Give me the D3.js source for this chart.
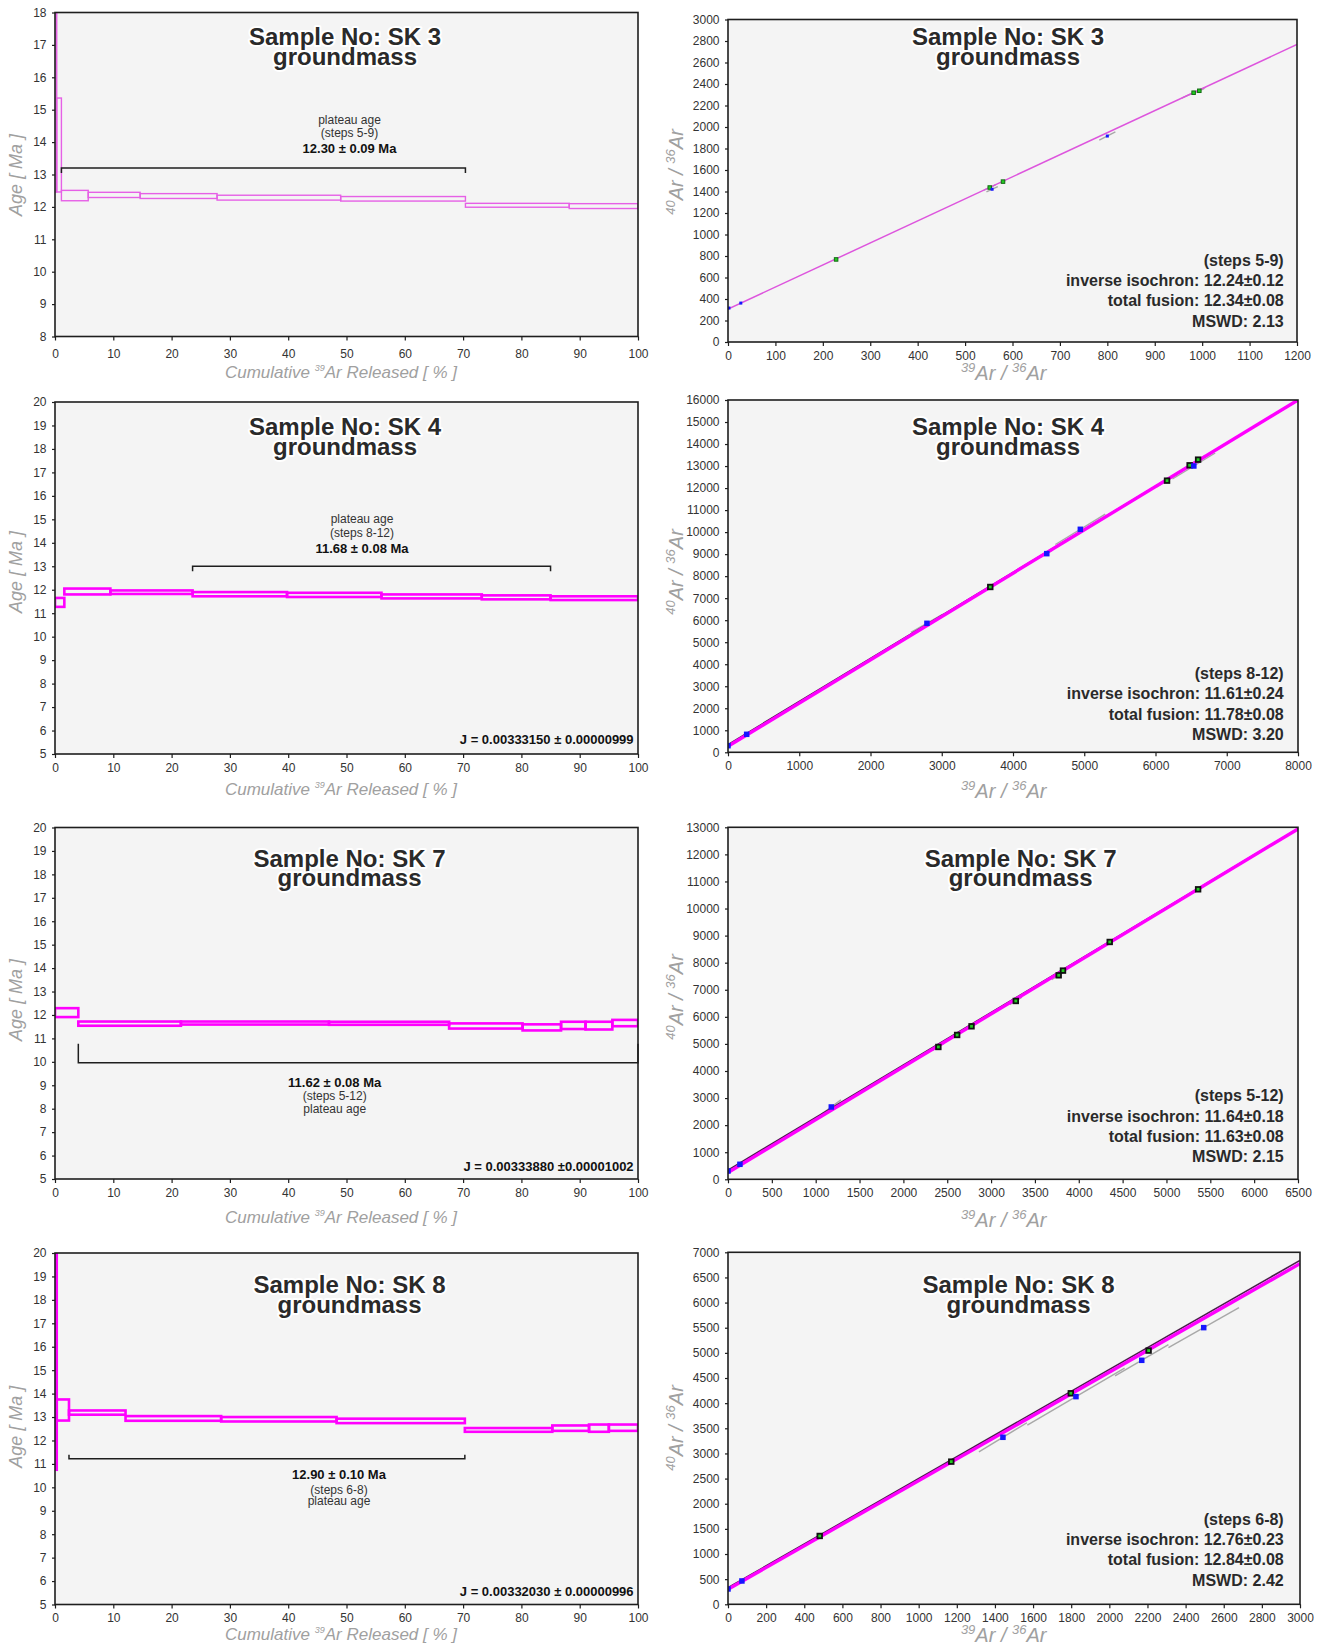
<!DOCTYPE html>
<body style="margin:0;background:#fff">

<script src="https://cdn.jsdelivr.net/npm/d3@7"></script>
<script>

  const width = 1326,
        height = 1647

  const font = "'Liberation Sans', Arial, sans-serif"

  const colors = {bg: '#f4f4f4',
                  frame: '#1e1e1e',
                  text: '#2a2a2a',
                  tick: '#333333',
                  label: '#a0a0a0',
                  magenta: '#ff00ff',
                  pink: '#e660e6',
                  fit: '#4b1c4b',
                  green: '#22cc22',
                  blue: '#1515ff',
                  err: '#a8a8a8'}

  const samples = ['SK 3', 'SK 4', 'SK 7', 'SK 8']

  // ---- age spectra: step edges (cumulative 39Ar %) and age band of every step [Ma]
  const sk3Cum = [0, 0.3, 1.1, 5.7, 14.6, 27.8, 49.0, 70.4, 88.2, 100]
  const sk3Hi  = [25, 15.36, 12.51, 12.45, 12.41, 12.36, 12.32, 12.11, 12.10]
  const sk3Lo  = [12.46, 12.46, 12.19, 12.29, 12.26, 12.21, 12.18, 11.99, 11.95]

  const sk4Cum = [0, 1.6, 9.5, 23.6, 39.8, 56.0, 73.2, 85.0, 100]
  const sk4Hi  = [11.65, 12.05, 11.97, 11.90, 11.87, 11.80, 11.76, 11.72]
  const sk4Lo  = [11.27, 11.80, 11.82, 11.72, 11.69, 11.63, 11.59, 11.56]

  const sk7Cum = [0, 4.0, 21.6, 47.0, 67.6, 80.2, 86.8, 91.0, 95.6, 100]
  const sk7Hi  = [12.29, 11.72, 11.72, 11.71, 11.64, 11.60, 11.71, 11.71, 11.79]
  const sk7Lo  = [11.91, 11.54, 11.59, 11.58, 11.42, 11.34, 11.40, 11.38, 11.52]

  const sk8Cum = [0, 0.3, 2.4, 12.1, 28.5, 48.3, 70.3, 85.3, 91.6, 95.0, 100]
  const sk8Hi  = [25, 13.75, 13.28, 13.04, 13.00, 12.93, 12.53, 12.64, 12.68, 12.68]
  const sk8Lo  = [10.75, 12.85, 13.10, 12.84, 12.81, 12.74, 12.37, 12.41, 12.37, 12.41]

  const ageDomains = [[8, 18], [5, 20], [5, 20], [5, 20]]

  // plateau brackets
  const plateauFrom  = [1.1, 23.6, 4.0, 2.4]
  const plateauTo    = [70.4, 85.0, 100, 70.3]
  const plateauLevel = [13.2, 13.0, 9.96, 11.22]
  const plateauAge   = ['12.30 ± 0.09 Ma', '11.68 ± 0.08 Ma', '11.62 ± 0.08 Ma', '12.90 ± 0.10 Ma']
  const plateauSteps = ['(steps 5-9)', '(steps 8-12)', '(steps 5-12)', '(steps 6-8)']
  const jValues = ['', 'J = 0.00333150 ± 0.00000999', 'J = 0.00333880 ±0.00001002', 'J = 0.00332030 ± 0.00000996']

  // ---- inverse isochrons: 39Ar/36Ar, 40Ar/36Ar, plateau step flag, error axis half lengths
  const sk3IsoX = [2, 27, 228, 552, 557, 580, 800, 982, 994]
  const sk3IsoY = [316, 362, 768, 1437, 1421, 1492, 1916, 2319, 2337]
  const sk3Used = [0, 0, 1, 1, 0, 1, 0, 1, 1]
  const sk3ErrX = [0, 0, 3, 12, 12, 5, 17, 25, 10]
  const sk3ErrY = [0, 0, 6, 25, 25, 10, 38, 50, 20]

  const sk4IsoX = [0, 262, 2792, 3681, 4474, 4945, 6162, 6479, 6538, 6598]
  const sk4IsoY = [300, 817, 5858, 7508, 9022, 10127, 12337, 13034, 13003, 13291]
  const sk4Used = [0, 0, 0, 1, 0, 0, 1, 1, 0, 1]
  const sk4ErrX = [0, 0, 224, 60, 80, 350, 150, 100, 300, 100]
  const sk4ErrY = [0, 0, 416, 120, 160, 690, 300, 200, 590, 200]

  const sk7IsoX = [0, 136, 1178, 2399, 2613, 2777, 3282, 3771, 3820, 4353, 5361]
  const sk7IsoY = [308, 554, 2671, 4887, 5330, 5650, 6586, 7534, 7707, 8765, 10710]
  const sk7Used = [0, 0, 0, 1, 1, 1, 1, 1, 1, 1, 1]
  const sk7ErrX = [0, 0, 110, 70, 60, 60, 70, 80, 60, 70, 80]
  const sk7ErrY = [0, 0, 260, 140, 120, 120, 140, 160, 120, 140, 160]

  const sk8IsoX = [0, 73, 481, 1171, 1442, 1798, 1825, 2170, 2206, 2495]
  const sk8IsoY = [305, 464, 1359, 2837, 3321, 4196, 4130, 4852, 5045, 5502]
  const sk8Used = [0, 0, 1, 1, 0, 1, 0, 0, 1, 0]
  const sk8ErrX = [0, 0, 20, 30, 126, 40, 255, 140, 40, 185]
  const sk8ErrY = [0, 0, 45, 65, 289, 90, 565, 310, 90, 397]

  const isoXMax  = [1200, 8000, 6500, 3000]
  const isoYMax  = [3000, 16000, 13000, 7000]
  const isoXStep = [100, 1000, 500, 200]
  const isoYStep = [200, 1000, 1000, 500]

  // fitted lines, 40Ar/36Ar at x = 0 and at x = max
  const fitPink  = [[306, 2768], [270, 16000], [250, 12940], [300, 6775]]
  const fitBlack = [null, [350, 15990], [340, 12950], [330, 6840]]

  const isoSteps   = ['(steps 5-9)', '(steps 8-12)', '(steps 5-12)', '(steps 6-8)']
  const isoInverse = ['12.24±0.12', '11.61±0.24', '11.64±0.18', '12.76±0.23']
  const isoTotal   = ['12.34±0.08', '11.78±0.08', '11.63±0.08', '12.84±0.08']
  const isoMswd    = ['2.13', '3.20', '2.15', '2.42']

  const spectra = [
    {cum: sk3Cum, hi: sk3Hi, lo: sk3Lo},
    {cum: sk4Cum, hi: sk4Hi, lo: sk4Lo},
    {cum: sk7Cum, hi: sk7Hi, lo: sk7Lo},
    {cum: sk8Cum, hi: sk8Hi, lo: sk8Lo}]
  const isochrons = [
    {x: sk3IsoX, y: sk3IsoY, used: sk3Used, ex: sk3ErrX, ey: sk3ErrY},
    {x: sk4IsoX, y: sk4IsoY, used: sk4Used, ex: sk4ErrX, ey: sk4ErrY},
    {x: sk7IsoX, y: sk7IsoY, used: sk7Used, ex: sk7ErrX, ey: sk7ErrY},
    {x: sk8IsoX, y: sk8IsoY, used: sk8Used, ex: sk8ErrX, ey: sk8ErrY}]

  // ---- layout (pixels)
  const rows = [
    {spec: [55, 638, 12.5, 336.5], iso: [728, 1297, 19.5, 342],
     titleY: 45, titleSpecX: 345, titleIsoX: 1008, pTextX: 349.5, pTextY: [123.5, 137, 153], pAbove: true, tick: 5,
     xPad: 9, specXTitle: 378, isoXTitle: 380, specYMid: 175, isoYMid: 172, jY: 0, mswdY: 321},
    {spec: [55, 638, 402, 754], iso: [728, 1298, 400, 752.3],
     titleY: 435, titleSpecX: 345, titleIsoX: 1008, pTextX: 362, pTextY: [523, 536.5, 552.5], pAbove: true, tick: 5,
     xPad: 5, specXTitle: 795, isoXTitle: 798, specYMid: 572, isoYMid: 572, jY: 744, mswdY: 734.3},
    {spec: [55, 638, 827.5, 1179], iso: [728, 1298, 827.3, 1179.3],
     titleY: 866.7, titleSpecX: 349.5, titleIsoX: 1020.7, pTextX: 334.7, pTextY: [1086.5, 1100, 1112.5], pAbove: false, tick: -19,
     xPad: 5, specXTitle: 1223, isoXTitle: 1226.7, specYMid: 1000, isoYMid: 997, jY: 1171, mswdY: 1156.7},
    {spec: [55, 638, 1253, 1604.5], iso: [728, 1300, 1252.3, 1604.3],
     titleY: 1293.3, titleSpecX: 349.5, titleIsoX: 1018.5, pTextX: 339, pTextY: [1479, 1493.5, 1505], pAbove: false, tick: -4,
     xPad: 5, specXTitle: 1640, isoXTitle: 1642, specYMid: 1426.7, isoYMid: 1428, jY: 1596, mswdY: 1580}]


  const svg = d3.select("body")
    .append("svg")
      .attr("width", width)
      .attr("height", height)
      .style("font-family", font)

  const defs = svg.append("defs")

  function styleAxis(g) {
    g.select('.domain').remove()
    g.selectAll('.tick line').attr('stroke', colors.frame).attr('stroke-width', 1.2)
    g.selectAll('.tick text')
      .attr('fill', colors.tick)
      .style('font-size', '12px')
      .style('font-family', font)
  }

  function drawTitle(cx, y, name) {
    const t = svg.append("text")
      .attr("text-anchor", "middle")
      .attr("fill", colors.text)
      .attr("stroke", "#fff")
      .attr("stroke-width", 4)
      .attr("stroke-linejoin", "round")
      .attr("paint-order", "stroke")
      .style("font-size", "24px")
      .style("font-weight", "bold")
    t.append("tspan").attr("x", cx).attr("y", y).text(`Sample No: ${name}`)
    t.append("tspan").attr("x", cx).attr("y", y + 19.5).text("groundmass")
  }

  function plotBox(g, b, id) {
    const [x0, x1, y0, y1] = b
    g.append("rect")
      .attr("x", x0).attr("y", y0)
      .attr("width", x1 - x0).attr("height", y1 - y0)
      .attr("fill", colors.bg)
    defs.append("clipPath").attr("id", id)
      .append("rect")
      .attr("x", x0).attr("y", y0)
      .attr("width", x1 - x0).attr("height", y1 - y0)
  }

  function frame(g, b) {
    const [x0, x1, y0, y1] = b
    g.append("rect")
      .attr("x", x0).attr("y", y0)
      .attr("width", x1 - x0).attr("height", y1 - y0)
      .attr("fill", "none")
      .attr("stroke", colors.frame)
      .attr("stroke-width", 1.6)
  }

  function drawSpectrum(i) {
    const r = rows[i], [x0, x1, y0, y1] = r.spec
    const d = spectra[i]
    const x = d3.scaleLinear().domain([0, 100]).range([x0, x1])
    const y = d3.scaleLinear().domain(ageDomains[i]).range([y1, y0])
    const g = svg.append("g").attr("class", "spectrum")

    plotBox(g, r.spec, `clipS${i}`)

    const steps = d.cum.slice(0, -1).map((c, j) => ({from: c, to: d.cum[j + 1], hi: d.hi[j], lo: d.lo[j]}))
    g.append("g")
      .attr("clip-path", `url(#clipS${i})`)
      .selectAll("rect")
      .data(steps)
      .enter()
      .append("rect")
        .attr("x", s => x(s.from))
        .attr("y", s => y(s.hi))
        .attr("width", s => x(s.to) - x(s.from))
        .attr("height", s => y(s.lo) - y(s.hi))
        .attr("fill", "none")
        .attr("stroke", i === 0 ? colors.pink : colors.magenta)
        .attr("stroke-width", i === 0 ? 1.4 : 2.6)

    // plateau bracket
    const bx0 = x(plateauFrom[i]), bx1 = x(plateauTo[i]), by = y(plateauLevel[i])
    g.append("path")
      .attr("d", `M${bx0},${by + r.tick}V${by}H${bx1}V${by + r.tick}`)
      .attr("fill", "none")
      .attr("stroke", colors.frame)
      .attr("stroke-width", 1.5)

    const lines = r.pAbove ? ['plateau age', plateauSteps[i], plateauAge[i]]
                           : [plateauAge[i], plateauSteps[i], 'plateau age']
    lines.forEach((s, k) => {
      const bold = s === plateauAge[i]
      g.append("text")
        .attr("x", r.pTextX).attr("y", r.pTextY[k])
        .attr("text-anchor", "middle")
        .attr("fill", bold ? '#111' : '#333')
        .style("font-size", bold ? "13px" : "12px")
        .style("font-weight", bold ? "bold" : "normal")
        .text(s)
    })

    if (jValues[i]) {
      g.append("text")
        .attr("x", 633.6).attr("y", r.jY)
        .attr("text-anchor", "end")
        .attr("fill", "#111")
        .style("font-size", "13px")
        .style("font-weight", "bold")
        .text(jValues[i])
    }

    frame(g, r.spec)

    const yAxis = d3.axisLeft(y)
      .tickValues(d3.range(ageDomains[i][0], ageDomains[i][1] + 0.5, 1))
      .tickFormat(d3.format('d'))
      .tickSize(3).tickPadding(5.5)
    g.append("g")
      .attr("transform", `translate(${x0}, 0)`)
      .call(yAxis)
      .call(styleAxis)

    const xAxis = d3.axisBottom(x)
      .tickValues(d3.range(0, 101, 10))
      .tickFormat(d3.format('d'))
      .tickSize(4).tickPadding(r.xPad)
    g.append("g")
      .attr("transform", `translate(0, ${y1})`)
      .call(xAxis)
      .call(styleAxis)

    // axis titles
    g.append("text")
      .attr("transform", `translate(22, ${r.specYMid}) rotate(-90)`)
      .attr("text-anchor", "middle")
      .attr("fill", colors.label)
      .style("font-size", "18px")
      .style("font-style", "italic")
      .text("Age [ Ma ]")

    const xt = g.append("text")
      .attr("x", 341).attr("y", r.specXTitle)
      .attr("text-anchor", "middle")
      .attr("fill", colors.label)
      .style("font-size", "17px")
      .style("font-style", "italic")
    xt.append("tspan").text("Cumulative ")
    xt.append("tspan").attr("dy", -7).style("font-size", "9px").text("39")
    xt.append("tspan").attr("dy", 7).text("Ar Released [ % ]")

    drawTitle(r.titleSpecX, r.titleY, samples[i])
  }

  function drawIsochron(i) {
    const r = rows[i], [x0, x1, y0, y1] = r.iso
    const d = isochrons[i]
    const x = d3.scaleLinear().domain([0, isoXMax[i]]).range([x0, x1])
    const y = d3.scaleLinear().domain([0, isoYMax[i]]).range([y1, y0])
    const g = svg.append("g").attr("class", "isochron")
    const small = i === 0

    plotBox(g, r.iso, `clipI${i}`)

    const pts = d.x.map((v, j) => ({x: v, y: d.y[j], used: d.used[j], ex: d.ex[j], ey: d.ey[j]}))
    const inner = g.append("g").attr("clip-path", `url(#clipI${i})`)

    // error ellipse axes
    inner.selectAll(".err")
      .data(pts.filter(p => p.ex > 0))
      .enter()
      .append("line")
        .attr("class", "err")
        .attr("x1", p => x(p.x - p.ex)).attr("y1", p => y(p.y - p.ey))
        .attr("x2", p => x(p.x + p.ex)).attr("y2", p => y(p.y + p.ey))
        .attr("stroke", colors.err)
        .attr("stroke-width", 1.4)

    if (fitBlack[i]) {
      inner.append("line")
        .attr("x1", x(0)).attr("y1", y(fitBlack[i][0]))
        .attr("x2", x(isoXMax[i])).attr("y2", y(fitBlack[i][1]))
        .attr("stroke", colors.fit)
        .attr("stroke-width", 1.6)
    }
    inner.append("line")
      .attr("x1", x(0)).attr("y1", y(fitPink[i][0]))
      .attr("x2", x(isoXMax[i])).attr("y2", y(fitPink[i][1]))
      .attr("stroke", small ? '#dd55dd' : colors.magenta)
      .attr("stroke-width", small ? 1.5 : 3.4)

    const sBlue = small ? 3 : 5.5,
          sGreen = small ? 3.5 : 4.6
    inner.selectAll(".pt")
      .data(pts)
      .enter()
      .append("rect")
        .attr("class", "pt")
        .attr("x", p => x(p.x) - (p.used ? sGreen : sBlue) / 2)
        .attr("y", p => y(p.y) - (p.used ? sGreen : sBlue) / 2)
        .attr("width", p => p.used ? sGreen : sBlue)
        .attr("height", p => p.used ? sGreen : sBlue)
        .attr("fill", p => p.used ? colors.green : colors.blue)
        .attr("stroke", p => p.used ? (small ? '#136b13' : '#111') : 'none')
        .attr("stroke-width", small ? 1 : 1.8)

    // result box
    const tx = 1283.7
    const res = [isoSteps[i], `inverse isochron: ${isoInverse[i]}`, `total fusion: ${isoTotal[i]}`, `MSWD: ${isoMswd[i]}`]
    res.forEach((s, k) => {
      g.append("text")
        .attr("x", tx).attr("y", r.mswdY + 5.5 - (3 - k) * 20.3)
        .attr("text-anchor", "end")
        .attr("fill", colors.text)
        .style("font-size", "16px")
        .style("font-weight", "bold")
        .text(s)
    })

    frame(g, r.iso)

    const yAxis = d3.axisLeft(y)
      .tickValues(d3.range(0, isoYMax[i] + 1, isoYStep[i]))
      .tickFormat(d3.format('d'))
      .tickSize(3).tickPadding(5.5)
    g.append("g")
      .attr("transform", `translate(${x0}, 0)`)
      .call(yAxis)
      .call(styleAxis)

    const xAxis = d3.axisBottom(x)
      .tickValues(d3.range(0, isoXMax[i] + 1, isoXStep[i]))
      .tickFormat(d3.format('d'))
      .tickSize(4).tickPadding(5)
    g.append("g")
      .attr("transform", `translate(0, ${y1})`)
      .call(xAxis)
      .call(styleAxis)

    const yt = g.append("text")
      .attr("transform", `translate(683, ${r.isoYMid}) rotate(-90)`)
      .attr("text-anchor", "middle")
      .attr("fill", colors.label)
      .style("font-size", "20px")
      .style("font-style", "italic")
    yt.append("tspan").attr("dy", -8).style("font-size", "13px").text("40")
    yt.append("tspan").attr("dy", 8).text("Ar / ")
    yt.append("tspan").attr("dy", -8).style("font-size", "13px").text("36")
    yt.append("tspan").attr("dy", 8).text("Ar")

    const xt = g.append("text")
      .attr("x", 1003.7).attr("y", r.isoXTitle)
      .attr("text-anchor", "middle")
      .attr("fill", colors.label)
      .style("font-size", "20px")
      .style("font-style", "italic")
    xt.append("tspan").attr("dy", -8).style("font-size", "13px").text("39")
    xt.append("tspan").attr("dy", 8).text("Ar / ")
    xt.append("tspan").attr("dy", -8).style("font-size", "13px").text("36")
    xt.append("tspan").attr("dy", 8).text("Ar")

    drawTitle(r.titleIsoX, r.titleY, samples[i])
  }

  samples.forEach((s, i) => {
    drawSpectrum(i)
    drawIsochron(i)
  })

</script>
